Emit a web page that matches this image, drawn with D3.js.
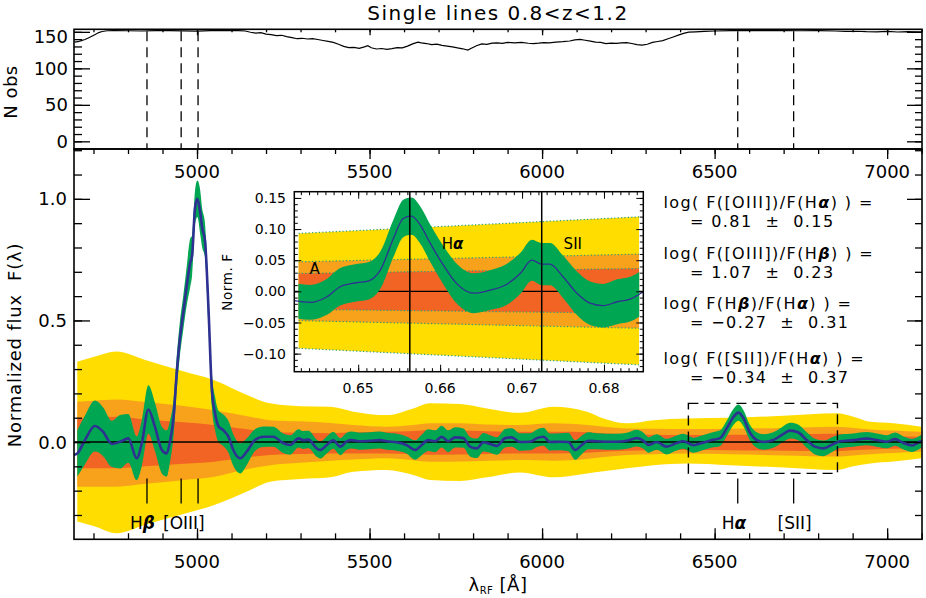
<!DOCTYPE html>
<html><head><meta charset="utf-8">
<script src="https://cdn.jsdelivr.net/npm/d3@7"></script>
<style>
body{margin:0;background:#fff}
svg text{font-family:"DejaVu Sans",sans-serif;fill:#000;white-space:pre}
</style></head><body>
<svg id="c" width="926" height="598"></svg>
<script>
// ---------------- DATA ----------------
const titleText = "Single lines 0.8<z<1.2";
const xTicksMajor = [5000, 5500, 6000, 6500, 7000];

// top panel: number of observations
const nobsLam = [4645,4655,4665,4675,4685,4695,4705,4715,4725,4740,4760,4800,4840,4880,4920,4960,5000,5040,5080,5120,
  5140,5155,5170,5185,5200,5215,5230,5245,5260,5275,5290,5305,5320,5335,5350,5365,5380,5395,5410,5425,
  5440,5455,5470,5485,5495,5505,5520,5535,5550,5565,5580,5595,5610,5625,5640,5650,5665,5680,5695,5710,
  5725,5740,5755,5770,5785,5795,5810,5825,5840,5855,5870,5885,5900,5920,5940,5960,5975,5990,6005,6020,
  6040,6060,6080,6095,6110,6125,6140,6155,6170,6185,6200,6215,6230,6245,6260,6275,6290,6305,6320,6335,
  6350,6365,6380,6395,6410,6425,6445,6470,6500,6550,6600,6650,6700,6750,6800,6850,6880,6910,6940,6970,
  7000,7030,7060,7100];
const nobsVal = [136.0,136.5,138.0,139.5,141.5,144.0,146.5,149.0,150.5,151.5,151.8,151.5,151.2,151.6,151.8,151.4,151.0,151.6,152.0,151.8,
  151.2,149.5,148.2,148.8,147.0,146.2,144.8,145.3,143.5,142.0,140.6,141.2,140.2,140.8,139.5,138.2,137.0,135.5,133.0,130.2,
  128.5,128.8,127.5,129.5,131.0,128.2,126.5,127.2,126.0,127.0,128.5,128.0,130.5,133.5,136.0,134.8,134.0,132.5,133.2,131.5,
  130.5,129.5,128.0,126.8,125.0,127.5,131.0,133.5,132.8,134.5,135.0,134.2,135.5,135.0,135.6,134.4,134.0,134.5,135.2,134.8,
  135.8,136.5,137.5,139.0,139.8,138.5,137.2,136.0,135.5,134.0,134.6,134.2,135.0,135.3,134.0,132.5,131.8,133.0,135.5,136.8,
  138.0,140.5,143.0,145.5,148.0,149.5,150.0,150.6,151.2,151.6,151.8,151.6,151.8,151.5,151.6,151.2,150.6,150.8,150.2,150.0,
  150.6,149.8,150.2,149.6];
const nobsTicksMajor = [0, 50, 100, 150];

// emission line positions (Angstrom) marked in both panels
const lineMarkLam = [4855, 4954, 5003, 6567, 6729];
const lineLabels = ["Hβ", "[OIII]", "Hα", "[SII]"];
const lineLabelLam = [4842, 4962, 6556, 6732];

// stacked spectrum
const specLam = [4641,4653,4675,4704,4728,4753,4777,4801,4825,4840,
  4859,4878,4898,4912,4922,4932,4941,4950,4960,4970,
  4980,4986,4994,5001,5009,5015,5023,5033,5043,5052,
  5062,5076,5091,5105,5125,5144,5168,5192,5221,5250,
  5270,5294,5308,5323,5347,5357,5376,5395,5415,5434,
  5448,5472,5501,5530,5550,5579,5607,5632,5651,5670,
  5690,5709,5728,5748,5772,5791,5811,5830,5849,5869,
  5893,5912,5936,5965,5985,6004,6023,6052,6076,6096,
  6115,6134,6159,6188,6216,6246,6275,6294,6308,6332,
  6361,6390,6409,6438,6463,6492,6516,6535,6555,6569,
  6584,6601,6622,6641,6670,6695,6719,6743,6767,6791,
  6815,6844,6864,6902,6941,6970,6999,7023,7047,7072,
  7099,7105];
const specFlux = [-0.053,-0.047,0.008,0.066,0.042,-0.008,0.001,0.015,-0.067,-0.005,
  0.134,0.063,-0.033,-0.047,0.005,0.10,0.28,0.42,0.53,0.64,
  0.735,0.77,0.96,1.0,0.947,0.88,0.83,0.556,0.214,0.12,
  0.065,0.049,0.022,-0.033,-0.067,-0.04,0.008,0.022,0.022,-0.005,
  -0.012,0.015,0.008,0.01,-0.026,-0.033,-0.012,0.007,-0.019,0.003,
  0.008,0.003,0.005,0.008,0.003,-0.001,-0.012,-0.033,-0.012,0.008,
  0.003,0.022,0.003,0.019,0.016,-0.019,-0.026,-0.001,-0.008,-0.016,
  0.016,0.019,0.0,0.001,0.016,0.022,0.0,0.001,0.0,-0.033,
  -0.012,0.005,0.003,0.001,0.001,0.005,0.016,0.005,-0.012,0.0,
  -0.019,-0.004,0.003,-0.013,-0.004,0.008,0.016,0.056,0.104,0.121,
  0.097,0.042,0.008,0.0,0.008,0.029,0.047,0.039,0.008,-0.019,
  -0.026,-0.008,0.003,0.008,0.014,0.008,0.001,0.012,-0.004,-0.014,
  0.003,0.003];
const specErr = [0.09,0.095,0.1,0.105,0.1,0.095,0.11,0.1,0.09,0.095,
  0.1,0.1,0.096,0.095,0.085,0.075,0.07,0.07,0.07,0.08,
  0.1,0.08,0.07,0.075,0.09,0.08,0.07,0.07,0.07,0.068,
  0.065,0.065,0.065,0.065,0.062,0.055,0.045,0.042,0.041,0.04,
  0.04,0.038,0.037,0.036,0.035,0.035,0.035,0.035,0.035,0.035,
  0.035,0.035,0.035,0.035,0.035,0.035,0.035,0.04,0.042,0.045,
  0.045,0.045,0.045,0.042,0.04,0.04,0.04,0.038,0.036,0.036,
  0.038,0.038,0.036,0.035,0.036,0.037,0.035,0.035,0.038,0.04,
  0.038,0.035,0.033,0.033,0.033,0.033,0.034,0.033,0.032,0.032,
  0.032,0.031,0.031,0.031,0.031,0.031,0.032,0.032,0.033,0.033,
  0.033,0.032,0.032,0.032,0.032,0.032,0.032,0.032,0.032,0.032,
  0.032,0.03,0.028,0.027,0.027,0.027,0.027,0.027,0.027,0.027,
  0.027,0.027];

// confidence bands of the noise
const bandLam = [4653,4700,4767,4850,4950,5050,5150,5212,5300,5386,5453,5550,5627,5675,5762,5840,5936,6033,6130,6178,6246,6323,6419,6545,6700,6854,6902,6951,7018,7099];
const yellowHi = [0.33,0.35,0.372,0.337,0.295,0.254,0.19,0.159,0.147,0.145,0.125,0.111,0.138,0.159,0.156,0.138,0.12,0.145,0.125,0.097,0.077,0.09,0.097,0.1,0.108,0.118,0.104,0.083,0.077,0.063];
const yellowLo = [-0.327,-0.345,-0.375,-0.34,-0.30,-0.259,-0.2,-0.163,-0.152,-0.145,-0.122,-0.115,-0.136,-0.156,-0.16,-0.145,-0.125,-0.145,-0.129,-0.12,-0.108,-0.095,-0.088,-0.095,-0.105,-0.115,-0.1,-0.088,-0.08,-0.067];
const orangeHi = [0.166,0.17,0.175,0.165,0.15,0.131,0.105,0.09,0.085,0.078,0.07,0.063,0.07,0.077,0.077,0.072,0.07,0.077,0.07,0.063,0.056,0.055,0.054,0.055,0.058,0.063,0.058,0.052,0.047,0.042];
const orangeLo = [-0.184,-0.184,-0.184,-0.172,-0.158,-0.143,-0.11,-0.095,-0.085,-0.077,-0.072,-0.067,-0.075,-0.081,-0.08,-0.077,-0.074,-0.077,-0.07,-0.062,-0.053,-0.05,-0.047,-0.05,-0.055,-0.06,-0.055,-0.05,-0.045,-0.04];
const redHi = [0.097,0.1,0.104,0.093,0.082,0.07,0.052,0.042,0.038,0.036,0.04,0.042,0.045,0.049,0.047,0.044,0.042,0.042,0.04,0.036,0.032,0.03,0.029,0.03,0.032,0.034,0.03,0.027,0.024,0.022];
const redLo = [-0.108,-0.108,-0.108,-0.1,-0.09,-0.081,-0.062,-0.053,-0.049,-0.047,-0.047,-0.047,-0.05,-0.052,-0.051,-0.049,-0.047,-0.047,-0.044,-0.04,-0.036,-0.034,-0.033,-0.034,-0.036,-0.038,-0.034,-0.031,-0.028,-0.026];

// region zoomed in the inset (Angstrom, flux)
const boxLam = [6424, 6856];
const boxFlux = [-0.129, 0.159];

// inset (wavelength in micron)
const insetLam = [0.6422,0.6441,0.6462,0.6478,0.6498,0.6513,0.6527,0.6543,0.6555,0.6565,
  0.6576,0.6588,0.6604,0.662,0.6641,0.6661,0.6681,0.6698,0.6712,0.6724,
  0.6734,0.675,0.6767,0.6783,0.6799,0.6816,0.6832,0.6848];
const insetFlux = [-0.015,-0.0177,-0.0086,0.0074,0.0138,0.017,0.034,0.085,0.117,0.1207,
  0.106,0.077,0.042,0.0128,-0.003,0.002,0.011,0.029,0.050,0.0437,
  0.0437,0.0235,-0.003,-0.019,-0.023,-0.0167,-0.0124,-0.0006];
const insetErr = [0.028,0.028,0.029,0.03,0.03,0.03,0.03,0.03,0.03,0.03,
  0.03,0.03,0.031,0.032,0.032,0.032,0.033,0.033,0.033,0.034,
  0.034,0.034,0.035,0.035,0.035,0.036,0.036,0.036];
const insetBandLam = [0.6427, 0.6843];
const insetYellowHi = [0.093, 0.1196], insetYellowLo = [-0.0914, -0.118];
const insetOrangeHi = [0.0475, 0.0598], insetOrangeLo = [-0.047, -0.0593];
const insetRedHi = [0.0288, 0.0368], insetRedLo = [-0.0289, -0.0353];
const insetLineLam = [0.6563, 0.6724];
const insetXTicks = [0.65, 0.66, 0.67, 0.68];
const insetYTicks = [-0.10, -0.05, 0.00, 0.05, 0.10, 0.15];
const insetLabels = ["A", "Hα", "SII"];

// line ratios
const ratioNum = ["[OIII]", "[OIII]", "Hβ", "[SII]"];
const ratioDen = ["Hα", "Hβ", "Hα", "Hα"];
const ratioVal = [0.81, 1.07, -0.27, -0.34];
const ratioErr = [0.15, 0.23, 0.31, 0.37];

// ---------------- STYLE ----------------
const C = {yellow:"#FFDD00", orange:"#F8A21C", red:"#F26424", green:"#00A651", blue:"#2E3192", dot:"#2d9d78"};
const FONT = 18;
const L = 74, R = 922, T1 = 29.3, B1 = 149, B2 = 539.3;

const svg = d3.select("#c");
const x = d3.scaleLinear([4643.5, 7101], [L, R]);
const yN = d3.scaleLinear([-10.5, 153.5], [B1, T1]);
const yF = d3.scaleLinear([-0.40, 1.205], [B2, B1]);

const defs = svg.append("defs");
function clip(id, x0, y0, w, h){ defs.append("clipPath").attr("id", id).append("rect").attr("x", x0).attr("y", y0).attr("width", w).attr("height", h); }
clip("cTop", L, T1, R - L, B1 - T1);
clip("cMain", L, B1, R - L, B2 - B1);

function greekText(sel, str){
  str.split(/([αβ])/).forEach(p => {
    if (!p) return;
    const t = sel.append("tspan").text(p);
    if (p === "α" || p === "β") t.attr("font-weight", "bold").attr("font-style", "italic");
  });
  return sel;
}
function styleAxis(g){ g.select(".domain").remove(); g.selectAll("line").attr("stroke", "#000").attr("stroke-width", 1.3); }
function rng(a, b, s){ const out = []; for (let v = a; v <= b + 1e-9; v += s) out.push(+v.toFixed(6)); return out; }

// ---------- TOP PANEL ----------
const gTop = svg.append("g").attr("clip-path", "url(#cTop)");
gTop.append("path").datum(nobsLam.map((l, i) => [l, nobsVal[i]]))
  .attr("fill", "none").attr("stroke", "#000").attr("stroke-width", 1.2)
  .attr("d", d3.line().x(d => x(d[0])).y(d => yN(d[1])));
gTop.selectAll("line.mk").data(lineMarkLam).join("line")
  .attr("x1", d => x(d)).attr("x2", d => x(d)).attr("y1", T1 + 2).attr("y2", B1)
  .attr("stroke", "#000").attr("stroke-width", 1.3).attr("stroke-dasharray", "10,6");

// ---------- MAIN PANEL ----------
const gMain = svg.append("g").attr("clip-path", "url(#cMain)");
const bandData = bandLam.map((l, i) => ({l, yh: yellowHi[i], yl: yellowLo[i], oh: orangeHi[i], ol: orangeLo[i], rh: redHi[i], rl: redLo[i]}));
[["yh","yl",C.yellow],["oh","ol",C.orange],["rh","rl",C.red]].forEach(([h, lo, col]) => {
  gMain.append("path").datum(bandData).attr("fill", col)
    .attr("d", d3.area().x(d => x(d.l)).y0(d => yF(d[lo])).y1(d => yF(d[h])).curve(d3.curveMonotoneX));
});
const spec = specLam.map((l, i) => ({l, f: specFlux[i], e: specErr[i]}));
gMain.append("path").datum(spec.filter(d => d.l >= 4653 && d.l <= 7099)).attr("fill", C.green)
  .attr("d", d3.area().x(d => x(d.l)).y0(d => yF(d.f - d.e)).y1(d => yF(d.f + d.e)).curve(d3.curveMonotoneX));
gMain.append("line").attr("x1", L).attr("x2", R).attr("y1", yF(0)).attr("y2", yF(0)).attr("stroke", "#000").attr("stroke-width", 1.5);
gMain.append("path").datum(spec).attr("fill", "none").attr("stroke", C.blue).attr("stroke-width", 2.6)
  .attr("d", d3.line().x(d => x(d.l)).y(d => yF(d.f)).curve(d3.curveMonotoneX));
// dashed box
gMain.append("rect").attr("x", x(boxLam[0])).attr("y", yF(boxFlux[1]))
  .attr("width", x(boxLam[1]) - x(boxLam[0])).attr("height", yF(boxFlux[0]) - yF(boxFlux[1]))
  .attr("fill", "none").attr("stroke", "#000").attr("stroke-width", 1.4).attr("stroke-dasharray", "10,6");
// line markers
svg.selectAll("line.lm").data(lineMarkLam).join("line")
  .attr("x1", d => x(d)).attr("x2", d => x(d)).attr("y1", 478.5).attr("y2", 503.5)
  .attr("stroke", "#000").attr("stroke-width", 1.3);
lineLabels.forEach((s, i) => {
  const t = svg.append("text").attr("x", x(lineLabelLam[i])).attr("y", 528.5).attr("text-anchor", "middle")
    .attr("font-size", 17);
  greekText(t, s);
});

// ---------- INSET ----------
const IL = 294.3, IR = 643.3, IT = 191.7, IB = 371.7;
const xi = d3.scaleLinear([0.6422, 0.6848], [IL, IR]);
const yi = d3.scaleLinear([-0.129, 0.16], [IB, IT]);
clip("cIn", IL, IT, IR - IL, IB - IT);
clip("cInB", xi(insetBandLam[0]), IT, xi(insetBandLam[1]) - xi(insetBandLam[0]), IB - IT);
svg.append("rect").attr("x", IL).attr("y", IT).attr("width", IR - IL).attr("height", IB - IT).attr("fill", "#fff");
const gInBands = svg.append("g").attr("clip-path", "url(#cInB)");
const gInZero = svg.append("g").attr("clip-path", "url(#cIn)");
const gInGreen = svg.append("g").attr("clip-path", "url(#cInB)");
const gInTop = svg.append("g").attr("clip-path", "url(#cIn)");
const ib = insetBandLam.map((l, i) => ({l, yh: insetYellowHi[i], yl: insetYellowLo[i], oh: insetOrangeHi[i], ol: insetOrangeLo[i], rh: insetRedHi[i], rl: insetRedLo[i]}));
[["yh","yl",C.yellow],["oh","ol",C.orange],["rh","rl",C.red]].forEach(([h, lo, col]) => {
  gInBands.append("path").datum(ib).attr("fill", col)
    .attr("d", d3.area().x(d => xi(d.l)).y0(d => yi(d[lo])).y1(d => yi(d[h])));
});
["yh","yl","oh","ol","rh","rl"].forEach(k => {
  gInBands.append("path").datum(ib).attr("fill", "none").attr("stroke", C.dot).attr("stroke-width", 1.2)
    .attr("stroke-dasharray", "1.2,2.2").attr("d", d3.line().x(d => xi(d.l)).y(d => yi(d[k])));
});
gInZero.append("line").attr("x1", IL).attr("x2", IR).attr("y1", yi(0)).attr("y2", yi(0)).attr("stroke", "#000").attr("stroke-width", 1.3);
const ins = insetLam.map((l, i) => ({l, f: insetFlux[i], e: insetErr[i]}));
gInGreen.append("path").datum(ins).attr("fill", C.green)
  .attr("d", d3.area().x(d => xi(d.l)).y0(d => yi(d.f - d.e)).y1(d => yi(d.f + d.e)).curve(d3.curveMonotoneX));
gInTop.append("path").datum(ins).attr("fill", "none").attr("stroke", C.blue).attr("stroke-width", 1.3)
  .attr("d", d3.line().x(d => xi(d.l)).y(d => yi(d.f)).curve(d3.curveMonotoneX));
gInTop.selectAll("line.v").data(insetLineLam).join("line")
  .attr("x1", d => xi(d)).attr("x2", d => xi(d)).attr("y1", IT).attr("y2", IB).attr("stroke", "#000").attr("stroke-width", 1.5);
// inset axes
const insXMinor = rng(643, 684, 1).map(v => v / 1000);
const insYMinor = rng(-12, 15, 1).map(v => v / 100);
[[d3.axisBottom(xi), 0, IB, insXMinor, -3.5], [d3.axisBottom(xi), 0, IB, insetXTicks, -7],
 [d3.axisTop(xi), 0, IT, insXMinor, -3.5], [d3.axisTop(xi), 0, IT, insetXTicks, -7],
 [d3.axisLeft(yi), IL, 0, insYMinor, -3.5], [d3.axisLeft(yi), IL, 0, insetYTicks, -7],
 [d3.axisRight(yi), IR, 0, insYMinor, -3.5], [d3.axisRight(yi), IR, 0, insetYTicks, -7]].forEach(([ax, tx, ty, vals, sz]) => {
  svg.append("g").attr("transform", `translate(${tx},${ty})`).call(ax.tickValues(vals).tickSize(sz).tickFormat("")).call(styleAxis)
    .selectAll("line").attr("stroke-width", 1);
});
svg.append("rect").attr("x", IL).attr("y", IT).attr("width", IR - IL).attr("height", IB - IT).attr("fill", "none").attr("stroke", "#000").attr("stroke-width", 1.5);
const f2 = d3.format(".2f");
svg.selectAll("text.iy").data(insetYTicks).join("text").attr("x", 286).attr("y", d => yi(d)).attr("dy", "0.36em")
  .attr("text-anchor", "end").attr("font-size", 14).text(d => f2(d));
svg.selectAll("text.ix").data(insetXTicks).join("text").attr("x", d => xi(d)).attr("y", 393)
  .attr("text-anchor", "middle").attr("font-size", 14).text(d => f2(d));
svg.append("text").attr("transform", "translate(231.5,282) rotate(-90)").attr("text-anchor", "middle")
  .attr("font-size", 13.5).attr("letter-spacing", 0.6).text("Norm. F");
const inLabPos = [[314.7, 274], [452.5, 248.7], [572.8, 248.7]];
insetLabels.forEach((s, i) => {
  const t = svg.append("text").attr("x", inLabPos[i][0]).attr("y", inLabPos[i][1]).attr("text-anchor", "middle").attr("font-size", 15);
  greekText(t, s);
});

// ---------- AXES ----------
const xMinor = rng(4700, 7100, 100);
const fMinor = rng(-3, 12, 1).map(v => v / 10);
const fMajor = [0, 0.5, 1.0];
const nMinor = rng(-10, 150, 10);
const axes = [
  [d3.axisBottom(x), 0, B2, xMinor, -6], [d3.axisBottom(x), 0, B2, xTicksMajor, -11],
  [d3.axisTop(x), 0, B1, xMinor, -5], [d3.axisTop(x), 0, B1, xTicksMajor, -10],
  [d3.axisTop(x), 0, T1, xMinor, -3], [d3.axisTop(x), 0, T1, xTicksMajor, -6],
  [d3.axisLeft(yF), L, 0, fMinor, -8], [d3.axisLeft(yF), L, 0, fMajor, -16],
  [d3.axisRight(yF), R, 0, fMinor, -7], [d3.axisRight(yF), R, 0, fMajor, -15],
  [d3.axisLeft(yN), L, 0, nMinor, -8], [d3.axisLeft(yN), L, 0, nobsTicksMajor, -16],
  [d3.axisRight(yN), R, 0, nMinor, -7], [d3.axisRight(yN), R, 0, nobsTicksMajor, -15]
];
axes.forEach(([ax, tx, ty, vals, sz]) => {
  svg.append("g").attr("transform", `translate(${tx},${ty})`).call(ax.tickValues(vals).tickSize(sz).tickFormat("")).call(styleAxis);
});
svg.append("rect").attr("x", L).attr("y", T1).attr("width", R - L).attr("height", B1 - T1).attr("fill", "none").attr("stroke", "#000").attr("stroke-width", 1.6);
svg.append("rect").attr("x", L).attr("y", B1).attr("width", R - L).attr("height", B2 - B1).attr("fill", "none").attr("stroke", "#000").attr("stroke-width", 1.6);

// tick labels
const f1 = d3.format(".1f");
svg.selectAll("text.ny").data(nobsTicksMajor).join("text").attr("x", 68).attr("y", d => Math.max(yN(d), 36.3)).attr("dy", "0.36em")
  .attr("text-anchor", "end").attr("font-size", FONT).text(d => d);
svg.selectAll("text.fy").data(fMajor).join("text").attr("x", 67).attr("y", d => yF(d)).attr("dy", "0.36em")
  .attr("text-anchor", "end").attr("font-size", FONT).text(d => f1(d));
svg.selectAll("text.xt").data(xTicksMajor).join("text").attr("x", d => x(d)).attr("y", 178)
  .attr("text-anchor", "middle").attr("font-size", FONT).text(d => d);
svg.selectAll("text.xb").data(xTicksMajor).join("text").attr("x", d => x(d)).attr("y", 568)
  .attr("text-anchor", "middle").attr("font-size", FONT).text(d => d);

// axis titles
svg.append("text").attr("x", 498).attr("y", 20).attr("text-anchor", "middle").attr("font-size", 20).attr("letter-spacing", 1.5).text(titleText);
svg.append("text").attr("transform", "translate(17,92) rotate(-90)").attr("text-anchor", "middle").attr("font-size", FONT).attr("letter-spacing", 0.5).text("N obs");
svg.append("text").attr("transform", "translate(21,345) rotate(-90)").attr("text-anchor", "middle").attr("font-size", FONT).attr("letter-spacing", 0.8).text("Normalized flux  F(λ)");
const xl = svg.append("text").attr("x", 498).attr("y", 591).attr("text-anchor", "middle").attr("font-size", FONT).attr("letter-spacing", 0.5);
xl.append("tspan").text("λ");
xl.append("tspan").attr("font-size", 10).attr("dy", 3).text("RF");
xl.append("tspan").attr("dy", -3).text(" [Å]");

// ratios
const rBase = [207.5, 226.5, 258.5, 277.5, 308.5, 327.5, 363.5, 382.5];
ratioVal.forEach((v, i) => {
  const t1 = svg.append("text").attr("x", 663.5).attr("y", rBase[2 * i]).attr("font-size", 16).attr("letter-spacing", 1.4);
  greekText(t1, `log( F(${ratioNum[i]})/F(${ratioDen[i]}) ) =`);
  svg.append("text").attr("x", 690).attr("y", rBase[2 * i + 1]).attr("font-size", 16).attr("letter-spacing", 1.4)
    .text(`= ${f2(v)}  ±  ${f2(ratioErr[i])}`);
});
</script>
</body></html>
